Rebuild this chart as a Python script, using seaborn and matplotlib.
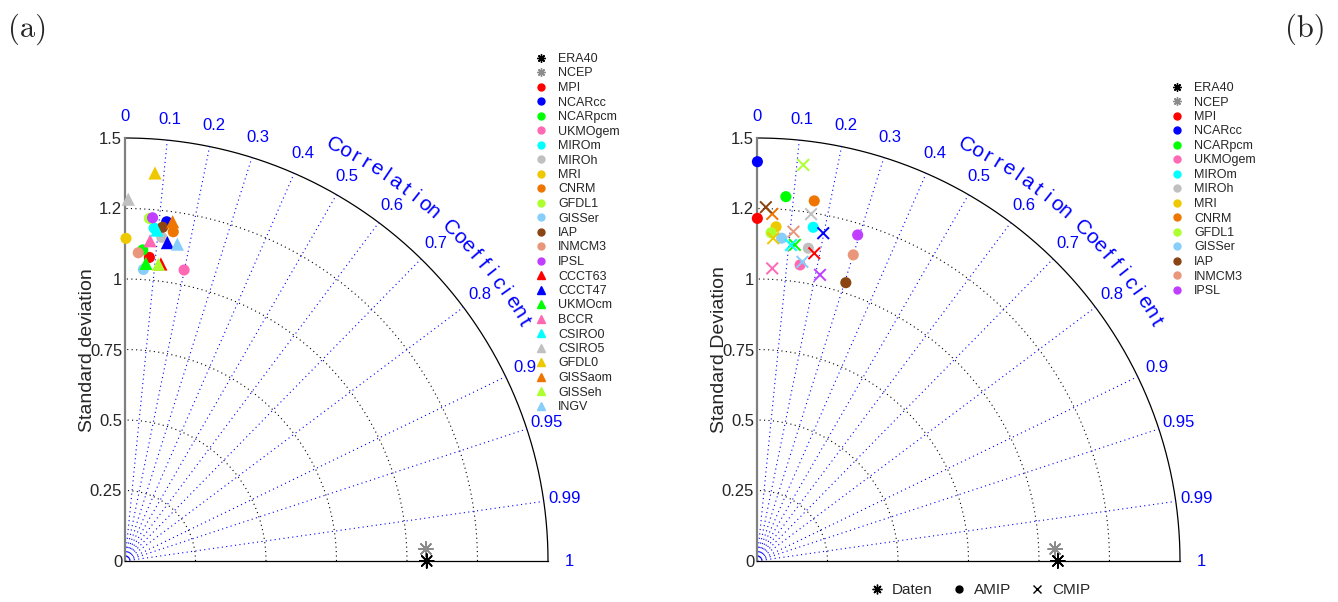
import numpy as np
import pandas as pd
import matplotlib
matplotlib.use('Agg')
import matplotlib.pyplot as plt
import seaborn as sns
from matplotlib.lines import Line2D

sns.set_style('white')
plt.rcParams['font.family'] = ['Liberation Sans', 'DejaVu Sans']

# ---------------- data ----------------
ref_names = ['ERA40', 'NCEP']
ref_colors = ['#000000', '#8C8C8C']
ref_std_a = [1.070, 1.068]
ref_corr_a = [1.0, 0.9992]
ref_std_b = [1.067, 1.058]
ref_corr_b = [1.0, 0.9992]

circ_models = ['MPI', 'NCARcc', 'NCARpcm', 'UKMOgem', 'MIROm', 'MIROh', 'MRI',
               'CNRM', 'GFDL1', 'GISSer', 'IAP', 'INMCM3', 'IPSL']
circ_colors = ['#FF0000', '#0000FF', '#00FF00', '#FF69B4', '#00FFFF', '#C0C0C0',
               '#EEC900', '#EE7600', '#ADFF2F', '#87CEFA', '#8B4513', '#E9967A',
               '#BF3EFF']
tri_models = ['CCCT63', 'CCCT47', 'UKMOcm', 'BCCR', 'CSIRO0', 'CSIRO5', 'GFDL0',
              'GISSaom', 'GISSeh', 'INGV']
tri_colors = ['#FF0000', '#0000FF', '#00FF00', '#FF69B4', '#00FFFF', '#C0C0C0',
              '#EEC900', '#EE7600', '#ADFF2F', '#87CEFA']

# panel (a)
a_circ_std = [1.080, 1.212, 1.105, 1.053, 1.185, 1.155, 1.144, 1.180, 1.218, 1.036,
              1.191, 1.094, 1.221]
a_circ_corr = [0.080, 0.122, 0.057, 0.199, 0.087, 0.113, 0.003, 0.145, 0.071, 0.063,
               0.112, 0.043, 0.080]
a_tri_std = [1.061, 1.139, 1.058, 1.139, 1.179, 1.283, 1.380, 1.215, 1.059, 1.139]
a_tri_corr = [0.120, 0.132, 0.070, 0.078, 0.096, 0.009, 0.077, 0.139, 0.112, 0.163]

# panel (b)
b_amip_std = [1.215, 1.416, 1.296, 1.061, 1.200, 1.124, 1.187, 1.293, 1.165, 1.148,
              1.036, 1.138, 1.210]
b_amip_corr = [0.001, 0.001, 0.079, 0.144, 0.166, 0.162, 0.057, 0.157, 0.043, 0.076,
               0.304, 0.300, 0.295]
b_cmip_std = [1.110, 1.186, 1.129, 1.039, 1.127, 1.245, 1.146, 1.232, 1.414, 1.073,
              1.255, 1.175, 1.039]
b_cmip_corr = [0.183, 0.198, 0.119, 0.052, 0.107, 0.154, 0.050, 0.044, 0.116, 0.150,
               0.025, 0.110, 0.215]

std_ticks = [0, 0.25, 0.5, 0.75, 1.0, 1.25, 1.5]
std_ticklabels = ['0', '0.25', '0.5', '0.75', '1', '1.2', '1.5']
std_arcs = [0.25, 0.5, 0.75, 1.0, 1.25]
corr_ticks = [0, 0.1, 0.2, 0.3, 0.4, 0.5, 0.6, 0.7, 0.8, 0.9, 0.95, 0.99, 1]
corr_ticklabels = ['0', '0.1', '0.2', '0.3', '0.4', '0.5', '0.6', '0.7', '0.8', '0.9',
                   '0.95', '0.99', '1']
corr_title = 'Correlation Coefficient'

# ---------------- helpers ----------------
W, H = 1338, 602
RMAX = 1.5
L = 1.75
SCALE = 282.0  # px per unit

def to_xy(std, corr):
    std = np.asarray(std, float)
    th = np.arccos(np.clip(np.asarray(corr, float), -1, 1))
    return std * np.cos(th), std * np.sin(th)

def make_df(models, std, corr, kind):
    x, y = to_xy(std, corr)
    return pd.DataFrame({'model': models, 'x': x, 'y': y, 'kind': kind})

def frame(ax, ylabel, origin_px):
    ax.set_xlim(0, L)
    ax.set_ylim(0, L)
    ax.set_facecolor('none')
    for s in ['top', 'right']:
        ax.spines[s].set_visible(False)
    ax.spines['left'].set_bounds(0, RMAX)
    ax.spines['left'].set_color('#808080')
    ax.spines['left'].set_linewidth(1.6)
    ax.spines['bottom'].set_bounds(0, RMAX)
    ax.spines['bottom'].set_color('k')
    ax.spines['bottom'].set_linewidth(0.9)
    ax.set_xticks([])
    ax.set_yticks(std_ticks)
    ax.set_yticklabels(std_ticklabels, fontsize=12)
    ax.tick_params(axis='y', length=0, pad=2)
    ax.set_xlabel('')
    ax.set_ylabel('')
    t = np.linspace(0, np.pi / 2, 400)
    for r in std_arcs:
        ax.plot(r * np.cos(t), r * np.sin(t), color='k', lw=0.8,
                linestyle=(0, (1, 3)), zorder=1)
    ax.plot(RMAX * np.cos(t), RMAX * np.sin(t), color='k', lw=0.9, zorder=1)
    for c in corr_ticks[1:-1]:
        th = np.arccos(c)
        ax.plot([0, RMAX * np.cos(th)], [0, RMAX * np.sin(th)], color='#0000FF',
                lw=0.8, linestyle=(0, (1, 3)), zorder=1)
    rl = 1.575
    for c, lab in zip(corr_ticks, corr_ticklabels):
        th = np.arccos(c)
        ax.text(rl * np.cos(th), rl * np.sin(th), lab, color='#0000FF', fontsize=12,
                ha='center', va='center', clip_on=False)
    a0, step, rt = 63.3, 1.473, 1.65
    for i, ch in enumerate(corr_title):
        ang = np.deg2rad(a0 - i * step)
        ax.text(rt * np.cos(ang), rt * np.sin(ang), ch, color='#0000FF', fontsize=15,
                ha='center', va='center', rotation=np.rad2deg(ang) - 90,
                rotation_mode='anchor', clip_on=False)
    fig.text((origin_px[0] - 37) / W, 1 - 350 / H, ylabel, rotation=90, fontsize=14,
             ha='center', va='center')

def add_axes(origin_px):
    x0, y0 = origin_px
    size = L * SCALE
    return fig.add_axes([x0 / W, (H - y0) / H, size / W, size / H])

# ---------------- figure ----------------
fig = plt.figure(figsize=(W / 100, H / 100), dpi=100)

circ_pal = dict(zip(circ_models, circ_colors))
tri_pal = dict(zip(tri_models, tri_colors))
ref_pal = dict(zip(ref_names, ref_colors))
AST = (8, 2, 0)

# panel (a)
axa = add_axes((125, 561))
frame(axa, 'Standard deviation', (125, 561))
dfa_c = make_df(circ_models, a_circ_std, a_circ_corr, 'circle')
dfa_t = make_df(tri_models, a_tri_std, a_tri_corr, 'triangle')
dfa_r = make_df(ref_names, ref_std_a, ref_corr_a, 'ref')
sns.scatterplot(data=dfa_c, x='x', y='y', hue='model', palette=circ_pal, marker='o',
                s=64, edgecolor='none', linewidth=0, legend=False, ax=axa, zorder=3,
                clip_on=False)
sns.scatterplot(data=dfa_t, x='x', y='y', hue='model', palette=tri_pal, marker='^',
                s=90, edgecolor='none', linewidth=0, legend=False, ax=axa, zorder=3,
                clip_on=False)
sns.scatterplot(data=dfa_r.iloc[::-1], x='x', y='y', hue='model', palette=ref_pal,
                marker=AST, s=100, linewidth=1.2, legend=False, ax=axa, zorder=4,
                clip_on=False)
axa.set_xlabel(''); axa.set_ylabel('')

# panel (b)
axb = add_axes((757, 561))
frame(axb, 'Standard Deviation', (757, 561))
dfb_c = make_df(circ_models, b_amip_std, b_amip_corr, 'AMIP')
dfb_x = make_df(circ_models, b_cmip_std, b_cmip_corr, 'CMIP')
dfb_r = make_df(ref_names, ref_std_b, ref_corr_b, 'ref')
sns.scatterplot(data=dfb_c, x='x', y='y', hue='model', palette=circ_pal, marker='o',
                s=64, edgecolor='none', linewidth=0, legend=False, ax=axb, zorder=3,
                clip_on=False)
sns.scatterplot(data=dfb_x, x='x', y='y', hue='model', palette=circ_pal, marker='x',
                s=70, linewidth=1.4, legend=False, ax=axb, zorder=3, clip_on=False)
sns.scatterplot(data=dfb_r.iloc[::-1], x='x', y='y', hue='model', palette=ref_pal,
                marker=AST, s=100, linewidth=1.2, legend=False, ax=axb, zorder=4,
                clip_on=False)
axb.set_xlabel(''); axb.set_ylabel('')

# legends
def ref_handles():
    return [Line2D([], [], ls='none', marker=AST, color=c, markersize=6, mew=1.0)
            for c in ref_colors]

h_a = ref_handles() + \
    [Line2D([], [], ls='none', marker='o', color=c, markersize=5) for c in circ_colors] + \
    [Line2D([], [], ls='none', marker='^', color=c, markersize=6) for c in tri_colors]
lab_a = ref_names + circ_models + tri_models
fig.legend(h_a, lab_a, loc='upper left', bbox_to_anchor=(535 / W, 1 - 53 / H),
           frameon=False, fontsize=9, handlelength=1.0, handletextpad=0.85,
           labelspacing=0.2, borderpad=0, borderaxespad=0)

h_b = ref_handles() + \
    [Line2D([], [], ls='none', marker='o', color=c, markersize=5) for c in circ_colors]
lab_b = ref_names + circ_models
fig.legend(h_b, lab_b, loc='upper left', bbox_to_anchor=(1171 / W, 1 - 82 / H),
           frameon=False, fontsize=9, handlelength=1.0, handletextpad=0.85,
           labelspacing=0.2, borderpad=0, borderaxespad=0)

h_bot = [Line2D([], [], ls='none', marker=AST, color='k', markersize=7, mew=1.0),
         Line2D([], [], ls='none', marker='o', color='k', markersize=5),
         Line2D([], [], ls='none', marker='x', color='k', markersize=6, mew=1.0)]
fig.legend(h_bot, ['Daten', 'AMIP', 'CMIP'], loc='center',
           bbox_to_anchor=(980 / W, 1 - 590 / H), ncol=3, frameon=False,
           fontsize=11, handlelength=1.0, handletextpad=0.5, columnspacing=1.2,
           borderpad=0, borderaxespad=0)

# panel labels
fig.text(28 / W, 1 - 29 / H, '(a)', fontsize=22, family='cmr10', ha='center',
         va='center')
fig.text(1305 / W, 1 - 29 / H, '(b)', fontsize=22, family='cmr10', ha='center',
         va='center')

fig.savefig('out.png', dpi=100)
